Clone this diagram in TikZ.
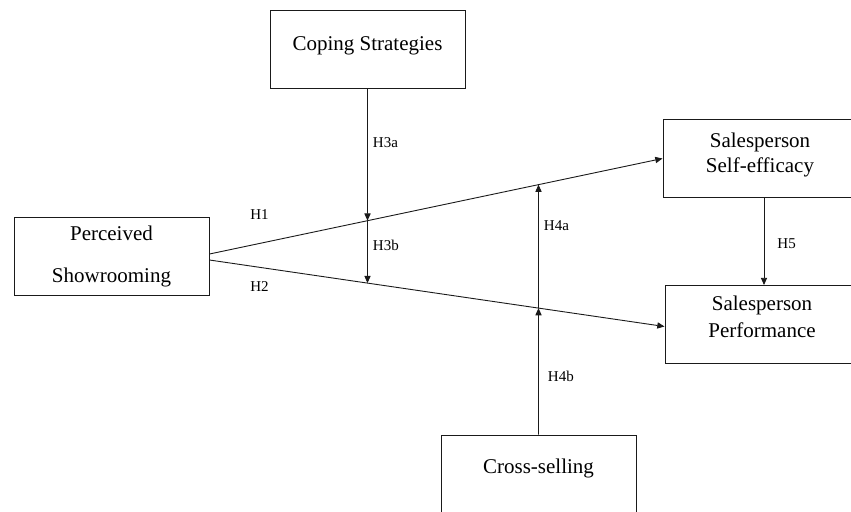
\documentclass[tikz,border=0pt]{standalone}
\usepackage{fontspec}
\setmainfont{Liberation Serif}
\usepackage{tikz}
\usepackage{xcolor}
\usetikzlibrary{
    positioning,
    calc,
    intersections,
    arrows.meta
}
\definecolor{LinhaEscura}{HTML}{1A1A1A}

\tikzset{
    VarBox/.style={
        draw=LinhaEscura,
        line width=0.5pt,
        minimum width=97.5pt,
        minimum height=39pt,
        inner sep=2pt,
        align=center,
        font=\fontsize{10.5pt}{12.6pt}\selectfont
    },
    Seta/.style={
        draw=LinhaEscura,
        line width=0.45pt,
        -{Triangle[length=3.6pt,width=3.1pt]}
    },
    HipLabel/.style={
        inner sep=2.5pt,
        font=\fontsize{7.5pt}{9pt}\selectfont
    }
}

\begin{document}
\begin{tikzpicture}[x=0.5pt,y=0.5pt]

                \useasboundingbox (0,0) rectangle (851,511);

                % construtos
                \node[VarBox, text height=6pt, text depth=4.1pt] (coping) at (367.5,462) {Coping Strategies};
                \node[VarBox] (showrooming) at (111.5,255) {Perceived\\[8.4pt]Showrooming};
                \node[VarBox, minimum width=97pt] (efficacy) at (760,352.5) {Salesperson\\Self-efficacy\\[-6.5pt]\mbox{}};
                \node[VarBox, minimum width=97pt] (performance) at (762,186.5) {Salesperson\\[1pt]Performance\\[-4.6pt]\mbox{}};
                \node[VarBox, text height=5pt, text depth=5.1pt] (crossselling) at (538.5,37) {Cross-selling};

                % efeitos diretos
                \draw[Seta, name path=h1] ([yshift=1pt]showrooming.east) -- (efficacy.west);
                \draw[Seta, name path=h2] ([yshift=-2pt]showrooming.east) -- ([yshift=-1pt]performance.west);

                % moderadores
                \path[name path=vcop] (coping.south) -- ++(0,-300);
                \path[name path=vcross] (crossselling.north) -- ++(0,300);
                \path[name intersections={of=h1 and vcop, by=copH1}];
                \path[name intersections={of=h2 and vcop, by=copH2}];
                \path[name intersections={of=h1 and vcross, by=crossH1}];
                \path[name intersections={of=h2 and vcross, by=crossH2}];

                \draw[Seta] (coping.south) -- node[HipLabel, right, pos=0.41] (labH3a) {H3a} (copH1);
                \draw[Seta] (copH1) -- node[HipLabel, right, pos=0.39] (labH3b) {H3b} (copH2);
                \draw[Seta] (crossselling.north) -- node[HipLabel, right, pos=0.46, xshift=2pt] (labH4b) {H4b} (crossH2);
                \draw[Seta] (crossH2) -- node[HipLabel, right, pos=0.67] (labH4a) {H4a} (crossH1);
                \draw[Seta] ([xshift=2pt]efficacy.south) -- node[HipLabel, right, pos=0.52, xshift=4pt] (labH5) {H5} ([xshift=2pt]efficacy.south |- performance.north);

                \node[HipLabel] (labH1) at (259.5,296) {H1};
                \node[HipLabel] (labH2) at (259.5,224) {H2};

            \end{tikzpicture}
\end{document}
